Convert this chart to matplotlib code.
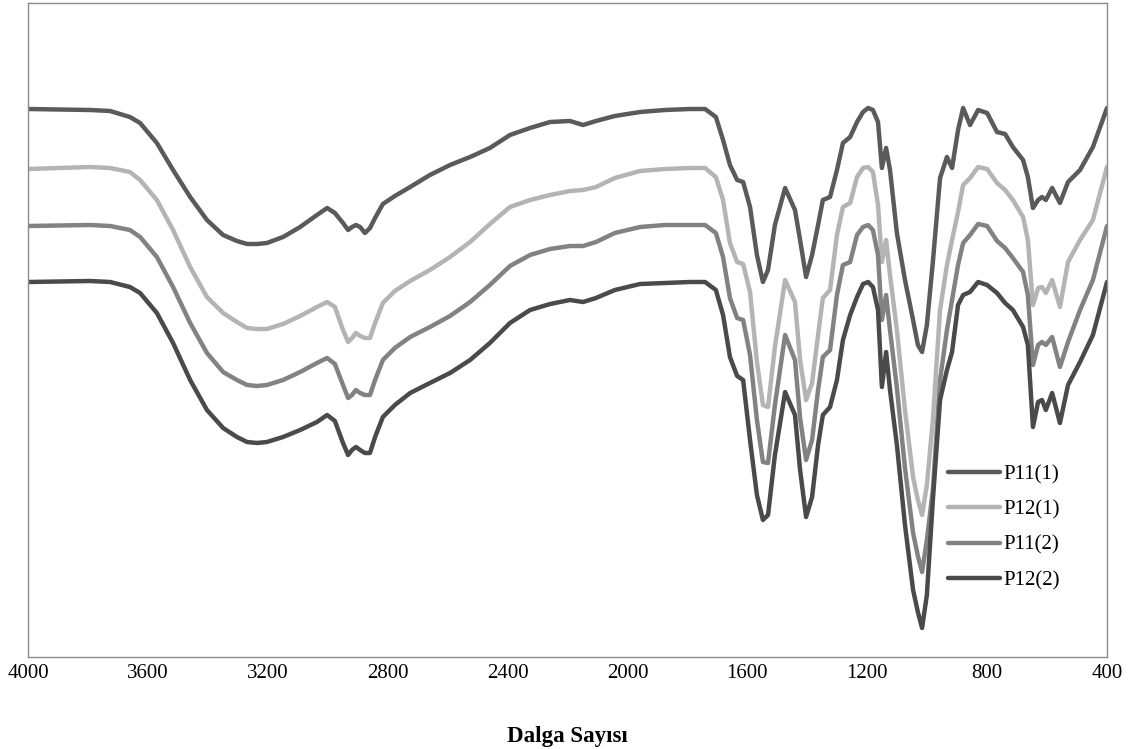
import matplotlib.pyplot as plt

plt.rcParams['font.family'] = ['Liberation Serif', 'DejaVu Serif']

# wavenumber (cm-1)
wavenumber = [4000, 3793, 3726, 3660, 3626, 3570, 3516, 3459, 3403, 3349,
              3303, 3269, 3236, 3203, 3149, 3092, 3036, 3002, 2976, 2949,
              2932, 2919, 2906, 2892, 2876, 2859, 2842, 2816, 2776, 2725,
              2659, 2592, 2525, 2459, 2392, 2325, 2258, 2192, 2148, 2105,
              2042, 1958, 1875, 1791, 1741,
              1705, 1681, 1658, 1634, 1614, 1591, 1568, 1548, 1531, 1508,
              1474, 1441, 1424, 1404, 1384, 1364, 1348, 1324, 1301, 1281,
              1257, 1234, 1214, 1197, 1181, 1164, 1151, 1137, 1124, 1101,
              1074, 1047, 1031, 1017, 1001, 981, 957, 934, 917, 897,
              880, 857, 830, 800, 767, 740, 714, 680, 664, 647,
              630, 617, 604, 583, 557, 530, 490, 447, 400]

p11_1 = [54.8, 54.7, 54.6, 54.0, 53.4, 51.4, 48.7, 46.0, 43.7, 42.2,
         41.6, 41.3, 41.3, 41.4, 42.0, 43.0, 44.2, 44.9, 44.4, 43.4,
         42.7, 43.0, 43.2, 43.0, 42.4, 42.9, 43.9, 45.3, 46.1, 47.0,
         48.2, 49.2, 50.0, 50.9, 52.2, 52.9, 53.5, 53.6, 53.2, 53.6,
         54.1, 54.5, 54.7, 54.8, 54.8,
         54.0, 51.7, 49.2, 47.7, 47.5, 45.0, 40.2, 37.5, 38.7, 43.2,
         46.9, 44.7, 41.7, 38.0, 40.2, 43.2, 45.7, 46.0, 48.7, 51.4,
         52.0, 53.5, 54.5, 54.9, 54.7, 53.5, 48.9, 50.9, 48.7, 42.4,
         37.7, 33.7, 31.2, 30.5, 33.2, 39.5, 47.9, 50.0, 48.9, 52.7,
         54.9, 53.2, 54.7, 54.4, 52.5, 52.3, 51.0, 49.7, 48.0, 44.9,
         45.7, 46.0, 45.7, 46.9, 45.4, 47.5, 48.7, 51.0, 54.9]

p12_1 = [48.8, 49.0, 48.9, 48.5, 47.7, 45.7, 42.7, 39.0, 36.0, 34.4,
         33.5, 32.9, 32.8, 32.8, 33.3, 34.1, 35.0, 35.5, 35.0, 32.7,
         31.5, 31.9, 32.4, 32.1, 31.9, 31.9, 33.4, 35.4, 36.6, 37.6,
         38.7, 40.0, 41.5, 43.3, 45.0, 45.7, 46.2, 46.6, 46.7, 47.0,
         47.9, 48.6, 48.8, 48.9, 48.9,
         48.0, 45.7, 41.4, 39.5, 39.3, 36.5, 29.5, 25.2, 25.0, 31.0,
         37.7, 35.5, 29.7, 25.7, 27.4, 32.2, 35.9, 36.7, 42.2, 45.0,
         45.4, 48.0, 48.9, 49.0, 48.5, 45.2, 39.5, 41.7, 38.2, 32.7,
         24.7, 18.0, 15.7, 14.2, 17.2, 23.7, 34.7, 39.2, 41.7, 44.5,
         47.2, 47.9, 49.0, 48.8, 47.4, 46.7, 45.7, 44.0, 41.7, 35.2,
         36.9, 37.0, 36.4, 37.7, 35.0, 39.5, 41.7, 43.7, 49.0]

p11_2 = [43.1, 43.2, 43.1, 42.7, 42.0, 40.0, 37.0, 33.4, 30.4, 28.5,
         27.7, 27.2, 27.1, 27.2, 27.7, 28.5, 29.4, 29.9, 29.3, 27.2,
         25.9, 26.2, 26.7, 26.4, 26.2, 26.2, 27.7, 29.7, 30.9, 32.0,
         33.0, 34.1, 35.5, 37.2, 39.1, 40.2, 40.8, 41.1, 41.1, 41.5,
         42.4, 43.0, 43.2, 43.2, 43.2,
         42.4, 40.0, 35.9, 33.9, 33.7, 30.2, 23.7, 19.5, 19.4, 25.2,
         32.2, 29.7, 23.9, 19.7, 21.7, 26.7, 30.0, 30.7, 36.2, 39.2,
         39.5, 42.2, 43.0, 43.2, 42.7, 40.2, 33.7, 36.2, 32.7, 26.9,
         18.9, 12.4, 10.1, 8.5, 11.7, 16.7, 27.7, 32.7, 35.7, 39.2,
         41.4, 42.2, 43.3, 43.1, 41.6, 40.9, 39.9, 38.5, 36.2, 29.2,
         31.2, 31.5, 31.2, 32.0, 29.0, 31.5, 34.7, 37.7, 43.1]

p12_2 = [37.5, 37.6, 37.5, 37.0, 36.4, 34.4, 31.4, 27.7, 24.7, 22.9,
         22.0, 21.5, 21.4, 21.5, 22.0, 22.7, 23.5, 24.2, 23.6, 21.4,
         20.2, 20.7, 21.0, 20.7, 20.4, 20.4, 22.0, 24.0, 25.2, 26.4,
         27.4, 28.4, 29.7, 31.4, 33.4, 34.7, 35.3, 35.7, 35.5, 35.9,
         36.7, 37.3, 37.4, 37.5, 37.5,
         36.7, 34.2, 30.0, 28.1, 27.7, 21.7, 16.2, 13.7, 14.2, 20.2,
         26.5, 24.2, 18.7, 14.0, 16.0, 21.2, 24.2, 25.0, 27.7, 31.7,
         34.2, 36.0, 37.3, 37.5, 37.0, 34.7, 27.0, 30.5, 26.7, 21.2,
         13.2, 6.7, 4.5, 2.9, 6.2, 15.7, 25.7, 28.7, 30.5, 35.2,
         36.2, 36.5, 37.5, 37.2, 36.4, 35.4, 34.7, 33.0, 31.2, 23.0,
         25.5, 25.7, 24.7, 26.4, 23.4, 27.2, 29.5, 32.2, 37.5]

labels = ['P11(1)', 'P12(1)', 'P11(2)', 'P12(2)']
colors = ['#5a5a5a', '#b4b4b4', '#828282', '#4a4a4a']

fig = plt.figure(figsize=(11.41, 7.49), dpi=100)
ax = fig.add_axes([28 / 1141, 1 - 657 / 749, 1079 / 1141, 654.3 / 749])

for series, lab, col in zip([p11_1, p12_1, p11_2, p12_2], labels, colors):
    ax.plot(wavenumber, series, color=col, lw=3.2, label=lab,
            solid_joinstyle='round', solid_capstyle='round')

ax.set_xlim(4000, 400)
ax.set_ylim(0, 65.43)
ax.set_xticks(range(4000, 399, -400))
ax.set_yticks([])
ax.tick_params(axis='x', length=0, pad=5, labelsize=15)
for sp in ax.spines.values():
    sp.set_color('#8c8c8c')
    sp.set_linewidth(1)

ax.set_xlabel('Dalga Sayısı', fontsize=16.5, fontweight='bold', labelpad=31)

ax.legend(loc='center left', bbox_to_anchor=(0.853, 0.198), frameon=False,
          fontsize=15, handlelength=2.5, handletextpad=0.15,
          labelspacing=0.76, borderpad=0, borderaxespad=0)

fig.savefig('out.png', dpi=100)
